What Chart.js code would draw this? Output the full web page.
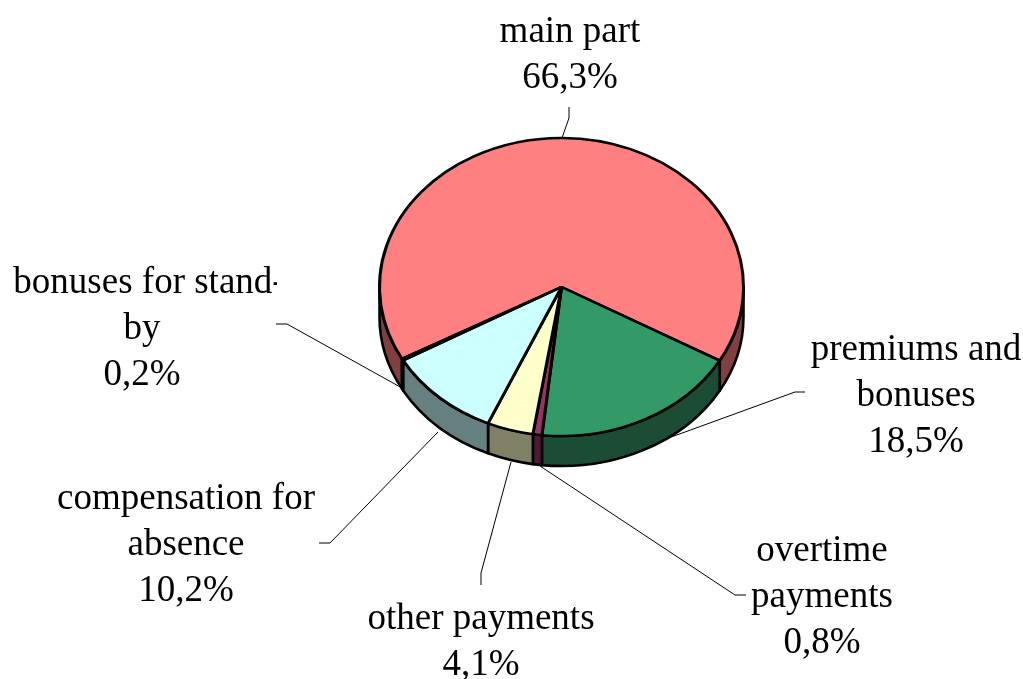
<!DOCTYPE html>
<html><head><meta charset="utf-8">
<style>html,body{margin:0;padding:0;background:#fff}canvas{display:block}</style>
<script src="https://cdn.jsdelivr.net/npm/chart.js@4"></script>
</head><body>
<canvas id="c" width="1023" height="679"></canvas>
<script>
const categories = ['main part','premiums and bonuses','overtime payments','other payments','compensation for absence','bonuses for stand-by'];
const shares = [66.3,18.5,0.8,4.1,10.2,0.2];
const topColors = ['#FF8080','#339966','#993366','#FFFFCC','#CCFFFF','#FF8080'];
const sideColors = ['#804040','#1A4D33','#4D1A33','#808066','#668080','#804040'];
const labelLines = [['main part'],['premiums and','bonuses'],['overtime','payments'],['other payments'],['compensation for','absence'],['bonuses for stand-','by']];
const labelAnchors = [[570,42],[916,360],[822,561],[481,629],[186,509],[142,293]];
const leaders = [
 [[562,138],[569,118],[569,107]],
 [[663,440],[795,392],[805,392]],
 [[540,466],[735,595],[746,595]],
 [[511,462],[481,573],[481,585]],
 [[438,432],[330,543],[319,543]],
 [[402,388],[287,324],[276,324]]
];
const TILT = 149/182, DEPTH = 30, LINE_H = 46;
const CLIPPED_LABEL = 5, CLIP_RIGHT = 277, CLIPPED_SHIFT = 7;

const pie3d = {
 id:'pie3d',
 beforeDatasetsDraw(chart){
  const ctx = chart.ctx, arcs = chart.getDatasetMeta(0).data, T = Math.PI*2;
  arcs.forEach((a,i)=>{
   let s = a.startAngle % T; if(s<0) s+=T;
   const e = s + (a.endAngle-a.startAngle);
   [[0,Math.PI],[T,T+Math.PI]].forEach(([lo,hi])=>{
    const p = Math.max(s,lo), q = Math.min(e,hi);
    if(q<=p) return;
    const rx = a.outerRadius, ry = rx*TILT;
    ctx.beginPath();
    ctx.ellipse(a.x,a.y,rx,ry,0,p,q);
    ctx.ellipse(a.x,a.y+DEPTH,rx,ry,0,q,p,true);
    ctx.closePath();
    ctx.fillStyle = sideColors[i]; ctx.fill();
    ctx.strokeStyle='#000'; ctx.lineWidth=2.6; ctx.lineJoin='round'; ctx.stroke();
   });
  });
  const c = arcs[0];
  ctx.save();
  ctx.translate(c.x,c.y); ctx.scale(1,TILT); ctx.translate(-c.x,-c.y);
 },
 afterDatasetsDraw(chart){
  const ctx = chart.ctx;
  ctx.restore();
  ctx.save();
  ctx.strokeStyle='#000'; ctx.lineWidth=1;
  leaders.forEach(l=>{
   ctx.beginPath();
   l.forEach((p,i)=> i?ctx.lineTo(p[0],p[1]):ctx.moveTo(p[0],p[1]));
   ctx.stroke();
  });
  ctx.fillStyle='#000';
  ctx.font='37px "Liberation Serif"';
  ctx.textAlign='center'; ctx.textBaseline='alphabetic';
  categories.forEach((_,i)=>{
   const lines = labelLines[i].concat(shares[i].toFixed(1).replace('.',',')+'%');
   const [x,y] = labelAnchors[i];
   lines.forEach((t,k)=>{
    if(i===CLIPPED_LABEL && k===0){
     ctx.save();
     ctx.beginPath(); ctx.rect(0,y-40,CLIP_RIGHT,60); ctx.clip();
     ctx.fillText(t,x+CLIPPED_SHIFT,y);
     ctx.restore();
    } else ctx.fillText(t,x,y+k*LINE_H);
   });
  });
  ctx.restore();
 }
};

new Chart(document.getElementById('c'),{
 type:'pie',
 data:{labels:categories,datasets:[{data:shares,backgroundColor:topColors,borderColor:'#000',borderWidth:3,hoverOffset:0,borderAlign:'center'}]},
 options:{
  responsive:false,animation:false,rotation:241.2,
  layout:{padding:{left:378,right:278,top:103,bottom:208}},
  events:[],
  plugins:{legend:{display:false},tooltip:{enabled:false}}
 },
 plugins:[pie3d]
});
</script>
</body></html>
